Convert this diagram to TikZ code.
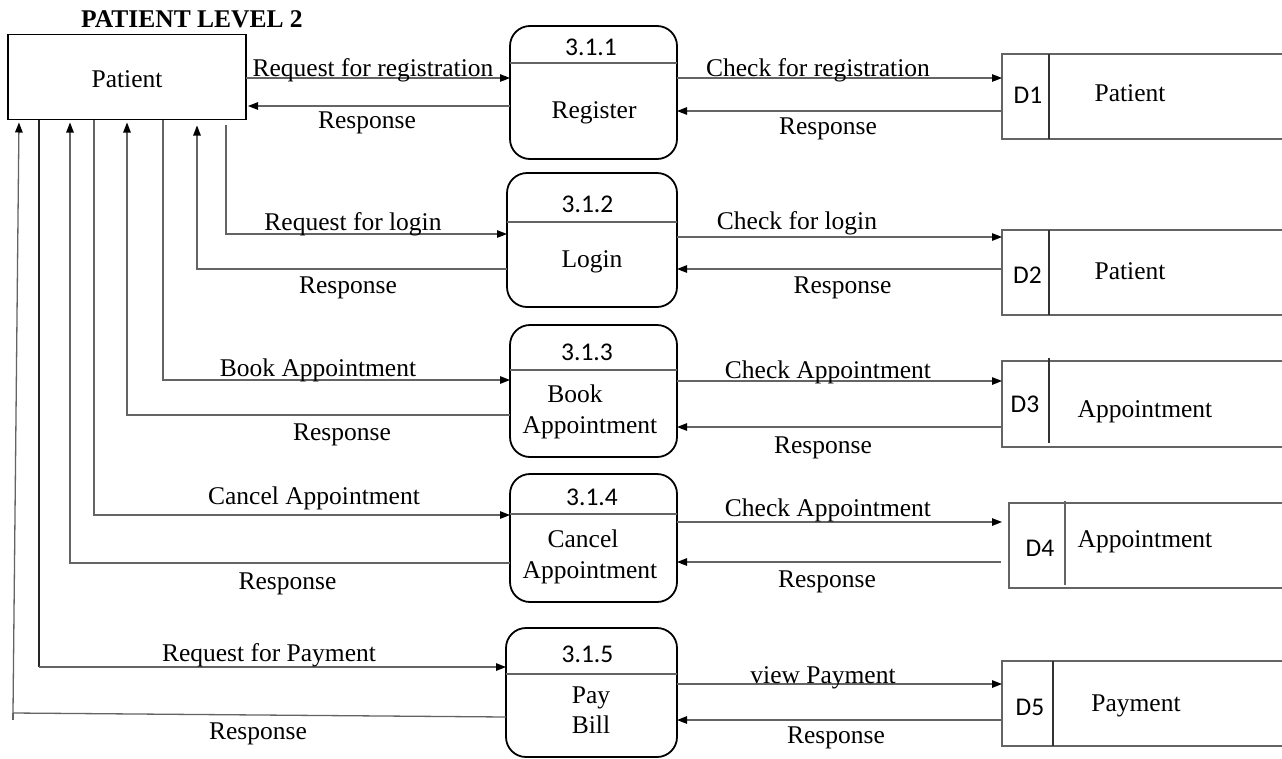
\documentclass[tikz,border=0pt]{standalone}
\usepackage{fontspec}
\setmainfont{Liberation Serif}
\newfontfamily\calib{Carlito}
\usetikzlibrary{arrows.meta,calc}
\definecolor{linegray}{RGB}{100,100,100}
\begin{document}
\begin{tikzpicture}[x=1pt,y=-1pt,
  every node/.style={outer sep=0pt,inner sep=0pt},
  txt/.style={font=\fontsize{25.5}{31}\selectfont,anchor=base},
  num/.style={font=\calib\fontsize{25.5}{30}\selectfont,anchor=base},
  titletxt/.style={font=\bfseries\fontsize{25.5}{30}\selectfont,anchor=base},
  ent/.style={draw=black,line width=1.5pt},
  proc/.style={draw=black,line width=1.8pt,rounded corners=20pt},
  store/.style={draw=none},
  storeline/.style={draw=linegray,line width=1.4pt},
  divline/.style={draw=linegray,line width=1.2pt},
  flow/.style={draw=linegray,line width=1.3pt},
  arr/.style={flow,-{Triangle[length=10pt,width=7.5pt,color=black]}},
]
\useasboundingbox (0,0) rectangle (1282,758);
\fill[white] (0,0) rectangle (1282,758);

% title and external entity
\node[titletxt] (title) at (192,27) {PATIENT LEVEL 2};
\node[ent,minimum width=238,minimum height=85] (pat) at (127,77) {};
\node[txt] (patt) at (127,87) {Patient};

% processes
\node[proc,minimum width=167,minimum height=133] (p1) at (593.5,92.5) {};
\node[proc,minimum width=170,minimum height=134] (p2) at (592,240) {};
\node[proc,minimum width=167,minimum height=132] (p3) at (593.5,391) {};
\node[proc,minimum width=167,minimum height=128] (p4) at (593.5,538) {};
\node[proc,minimum width=171,minimum height=129] (p5) at (591.5,692.5) {};

\draw[divline] (p1.west |- 0,63) -- (p1.east |- 0,63);
\draw[divline] (p2.west |- 0,222) -- (p2.east |- 0,222);
\draw[divline] (p3.west |- 0,370) -- (p3.east |- 0,370);
\draw[divline] (p4.west |- 0,514) -- (p4.east |- 0,514);
\draw[divline] (p5.west |- 0,674) -- (p5.east |- 0,674);

\node[num] (p1n) at (591,55) {3.1.1};
\node[txt] (p1t) at (594,118) {Register};
\node[num] (p2n) at (587.5,212) {3.1.2};
\node[txt] (p2t) at (592,267) {Login};
\node[num] (p3n) at (587,360) {3.1.3};
\node[txt] (p3a) at (575,402) {Book};
\node[txt] (p3b) at (590,433) {Appointment};
\node[num] (p4n) at (592,505) {3.1.4};
\node[txt] (p4a) at (583,547) {Cancel};
\node[txt] (p4b) at (590,578) {Appointment};
\node[num] (p5n) at (587.5,662) {3.1.5};
\node[txt] (p5a) at (591,703) {Pay};
\node[txt] (p5b) at (591,733) {Bill};

% data stores
\node[store,minimum width=280,minimum height=85] (ds1) at (1142,96.5) {};
\node[store,minimum width=280,minimum height=85] (ds2) at (1142,272.5) {};
\node[store,minimum width=280,minimum height=86] (ds3) at (1142,404) {};
\node[store,minimum width=273,minimum height=85] (ds4) at (1145.5,545.5) {};
\node[store,minimum width=280,minimum height=85] (ds5) at (1142,703.5) {};
\foreach \d in {ds1,ds2,ds3,ds4,ds5}{
  \draw[storeline] (\d.north east) -- (\d.north west) -- (\d.south west) -- (\d.south east);
}
\draw[divline,draw=black!80] (ds1.north -| 1049,0) -- (ds1.south -| 1049,0);
\draw[divline,draw=black!80] (ds2.north -| 1049,0) -- (ds2.south -| 1049,0);
\draw[divline,draw=black!80] (1049,358) -- (1049,443);
\draw[divline] (1065,501) -- (1065,585);
\draw[divline,draw=black!80] (ds5.north -| 1053,0) -- (ds5.south -| 1053,0);

\node[num] (d1) at (1028,103) {D1};
\node[txt] (d1t) at (1130,101) {Patient};
\node[num] (d2) at (1027.5,283) {D2};
\node[txt] (d2t) at (1130,279) {Patient};
\node[num] (d3) at (1025,412) {D3};
\node[txt] (d3t) at (1145,417) {Appointment};
\node[num] (d4) at (1040,556) {D4};
\node[txt] (d4t) at (1145,547) {Appointment};
\node[num] (d5) at (1030,715) {D5};
\node[txt] (d5t) at (1136,711) {Payment};

% patient <-> processes
\draw[arr] (pat.east |- 0,78) -- (p1.west |- 0,78);
\draw[arr] (p1.west |- 0,106) -- ([xshift=2pt]pat.east |- 0,106);

\coordinate (r2s) at (226,125);
\draw[arr] (r2s) -- (226,234) -- (p2.west |- 0,234);
\draw[arr,shorten >=6pt] (p2.west |- 0,269) -- (197,269) -- (pat.south -| 197,0);

\draw[arr] (pat.south -| 163,0) -- (163,380) -- (p3.west |- 0,380);
\draw[arr,shorten >=3pt] (p3.west |- 0,415) -- (127,415) -- (pat.south -| 127,0);

\draw[arr] (pat.south -| 94,0) -- (94,515) -- (p4.west |- 0,515);
\draw[arr,shorten >=3pt] (p4.west |- 0,563) -- (70,563) -- (pat.south -| 70,0);

\draw[flow,draw=black!85] (pat.south -| 39,0) -- (39,667);
\draw[arr] (39,667) -- (p5.west |- 0,667);
\draw[arr,shorten >=3pt] (p5.west |- 0,717) -- (13,713) -- (pat.south -| 19,0);
\draw[flow] (13,713) -- (13,720);

% processes <-> data stores
\draw[arr] (p1.east |- 0,78) -- (ds1.west |- 0,78);
\draw[arr] (ds1.west |- 0,111) -- (p1.east |- 0,111);
\draw[arr] (p2.east |- 0,237) -- (ds2.west |- 0,237);
\draw[arr] (ds2.west |- 0,269) -- (p2.east |- 0,269);
\draw[arr] (p3.east |- 0,381) -- (ds3.west |- 0,381);
\draw[arr] (ds3.west |- 0,427) -- (p3.east |- 0,427);
\draw[arr,shorten >=7pt] (p4.east |- 0,522) -- (ds4.west |- 0,522);
\draw[arr,shorten <=8pt] (ds4.west |- 0,562) -- (p4.east |- 0,562);
\draw[arr] (p5.east |- 0,684) -- (ds5.west |- 0,684);
\draw[arr] (ds5.west |- 0,720) -- (p5.east |- 0,720);

% flow labels
\node[txt] (l1a) at (373,76) {Request for registration};
\node[txt] (l1b) at (367,128) {Response};
\node[txt] (l2a) at (353,230) {Request for login};
\node[txt] (l2b) at (348,293) {Response};
\node[txt] (l3a) at (318,376) {Book Appointment};
\node[txt] (l3b) at (342,440) {Response};
\node[txt] (l4a) at (314,504) {Cancel Appointment};
\node[txt] (l4b) at (287.5,589) {Response};
\node[txt] (l5a) at (269,661) {Request for Payment};
\node[txt] (l5b) at (258,739) {Response};

\node[txt] (r1a) at (818,76) {Check for registration};
\node[txt] (r1b) at (828,134) {Response};
\node[txt] (r2a) at (797,229) {Check for login};
\node[txt] (r2b) at (842.5,293) {Response};
\node[txt] (r3a) at (828,378) {Check Appointment};
\node[txt] (r3b) at (823,453) {Response};
\node[txt] (r4a) at (828,516) {Check Appointment};
\node[txt] (r4b) at (827,587) {Response};
\node[txt] (r5a) at (823,683) {view Payment};
\node[txt] (r5b) at (836,743) {Response};
\end{tikzpicture}
\end{document}
